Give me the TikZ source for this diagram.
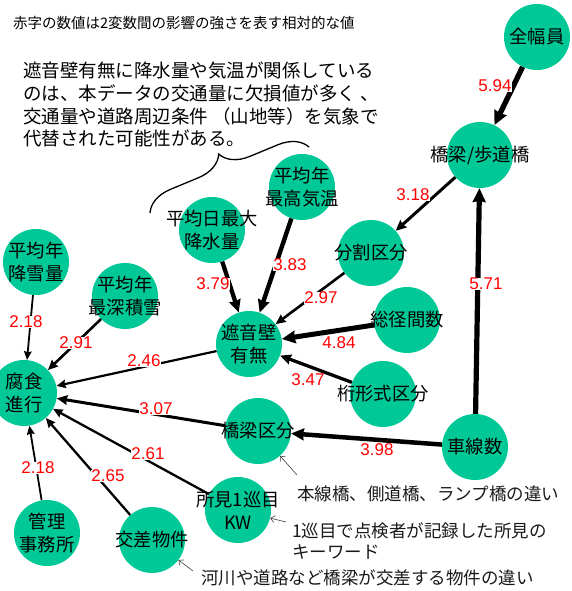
\documentclass[tikz,border=0pt]{standalone}
\usepackage{fontspec}
\setmainfont{Liberation Sans}
\newfontfamily\jp{Noto Sans CJK JP}
\usetikzlibrary{arrows.meta,decorations.pathreplacing}
\definecolor{ngreen}{RGB}{0,200,150}
\newcommand\mkvert[3]{\node[vnode] (#1) at (#2) {}; \node[vtext] (#1-t) at (#1) {#3};}
\begin{document}
\begin{tikzpicture}[x=1pt,y=-1pt,
  vnode/.style={circle, fill=ngreen, minimum size=66pt, inner sep=0pt},
  vtext/.style={align=center, inner sep=0pt, font=\jp\fontsize{18.3}{23}\selectfont, text=black},
  wlabel/.style={text=red, font=\fontsize{17}{17}\selectfont, fill=white, inner sep=0.3pt},
  edge/.style={draw=black, -{Stealth[length=6pt 1.5, width=5pt 1.5, inset=1pt]}},
  note/.style={font=\jp\fontsize{17.5}{21.5}\selectfont, anchor=west, align=left, inner sep=0pt, text=black!90},
  pointer/.style={draw=black!75, line width=0.6pt, -{Straight Barb[length=4pt, width=7pt]}},
]
\useasboundingbox (0,0) rectangle (571,591);

% vertices
\mkvert{zen}{537,37}{全幅員}
\mkvert{kyo}{480,155}{橋梁/歩道橋}
\mkvert{kion}{302,187}{平均年\\最高気温}
\mkvert{kousui}{212,230}{平均日最大\\降水量}
\mkvert{bunkatsu}{371,253}{分割区分}
\mkvert{kousetsu}{36,262}{平均年\\降雪量}
\mkvert{sekisetsu}{125,296}{平均年\\最深積雪}
\mkvert{soukei}{407,320}{総径間数}
\mkvert{shaon}{249,344}{遮音壁\\有無}
\mkvert{fushoku}{24,393}{腐食\\進行}
\mkvert{keta}{383,394}{桁形式区分}
\mkvert{kyokubun}{258,431}{橋梁区分}
\mkvert{shasen}{475,447}{車線数}
\mkvert{shoken}{238,510}{所見1巡目\\KW}
\mkvert{kanri}{47,533}{管理\\事務所}
\mkvert{kousa}{152,540}{交差物件}

% edges
\draw[edge, line width=5.3pt] (zen) -- (kyo);
\draw[edge, line width=3pt] (kyo) -- (bunkatsu);
\draw[edge, line width=5.2pt] (shasen) -- (kyo);
\draw[edge, line width=4.4pt] (kion) -- (shaon);
\draw[edge, line width=4.3pt] (kousui) -- (shaon);
\draw[edge, line width=2.6pt] (bunkatsu) -- (shaon);
\draw[edge, line width=5pt] (soukei) -- (shaon);
\draw[edge, line width=3.3pt] (keta) -- (shaon);
\draw[edge, line width=2.2pt] (shaon) -- (fushoku);
\draw[edge, line width=1.8pt] (kousetsu) -- (fushoku);
\draw[edge, line width=2.6pt] (sekisetsu) -- (fushoku);
\draw[edge, line width=3pt] (kyokubun) -- (fushoku);
\draw[edge, line width=4.5pt] (shasen) -- (kyokubun);
\draw[edge, line width=2.3pt] (shoken) -- (fushoku);
\draw[edge, line width=2.3pt] (kousa) -- (fushoku);
\draw[edge, line width=1.8pt] (kanri) -- (fushoku);

% weights
\node[wlabel] (w1) at (495,86) {5.94};
\node[wlabel] (w2) at (413,195) {3.18};
\node[wlabel] (w3) at (486,284) {5.71};
\node[wlabel] (w4) at (290,265) {3.83};
\node[wlabel] (w5) at (213,284) {3.79};
\node[wlabel] (w6) at (321,298) {2.97};
\node[wlabel] (w7) at (339,343) {4.84};
\node[wlabel] (w8) at (308,380) {3.47};
\node[wlabel] (w9) at (144,361) {2.46};
\node[wlabel] (w10) at (26,322) {2.18};
\node[wlabel] (w11) at (76,343) {2.91};
\node[wlabel] (w12) at (156,409) {3.07};
\node[wlabel] (w13) at (148,454) {2.61};
\node[wlabel] (w14) at (108,476) {2.65};
\node[wlabel] (w15) at (38,468) {2.18};
\node[wlabel] (w16) at (377,450) {3.98};

% texts
\node[anchor=west, inner sep=0pt, font=\jp\fontsize{14.5}{17}\selectfont] (title) at (13,23) {赤字の数値は2変数間の影響の強さを表す相対的な値};
\node[anchor=north west, inner sep=0pt, align=left, font=\jp\fontsize{18.5}{22.7}\selectfont] (comment) at (23,62) {遮音壁有無に降水量や気温が関係している\\のは、本データの交通量に欠損値が多く 、\\交通量や道路周辺条件 （山地等）を気象で\\代替された可能性がある。};
\draw[decorate, decoration={brace, amplitude=28pt, aspect=0.5}, line width=1.3pt] (150,213) -- (309,147);

\node[note] (n1) at (297,494) {本線橋、側道橋、ランプ橋の違い};
\node[note] (n2) at (292,541) {1巡目で点検者が記録した所見の\\キーワード};
\node[note] (n3) at (201,578) {河川や道路など橋梁が交差する物件の違い};
\coordinate (p1) at (297,475);
\coordinate (p2) at (286,522);
\coordinate (p3) at (193,571);
\draw[pointer] (p1) -- (kyokubun);
\draw[pointer] (p2) -- (shoken);
\draw[pointer] (p3) -- (kousa);
\end{tikzpicture}
\end{document}
